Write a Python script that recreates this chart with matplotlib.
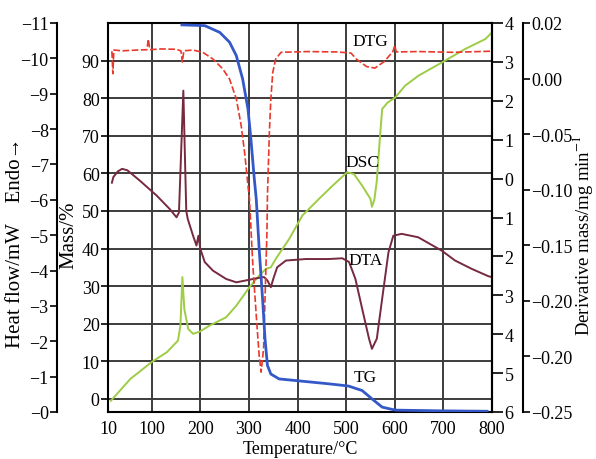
import matplotlib
matplotlib.use('Agg')
import matplotlib.pyplot as plt

plt.rcParams['font.family'] = ['Liberation Serif', 'DejaVu Serif']
plt.rcParams['mathtext.fontset'] = 'stix'

# 軸の目盛り
temp_ticks = [10, 100, 200, 300, 400, 500, 600, 700, 800]
mass_ticks = [0, 10, 20, 30, 40, 50, 60, 70, 80, 90]
heat_ticks = [0, -1, -2, -3, -4, -5, -6, -7, -8, -9, -10, -11]
heat_labels = ['−0', '−1', '−2', '−3', '−4', '−5', '−6', '−7', '−8', '−9', '−10', '−11']
dta_ticks = [4, 3, 2, 1, 0, -1, -2, -3, -4, -5, -6]
dta_labels = ['4', '3', '2', '1', '0', '1', '2', '3', '4', '5', '6']
deriv_ticks = [7, 6, 5, 4, 3, 2, 1, 0]
deriv_labels = ['0.02', '0.00', '−0.05', '−0.10', '−0.15', '−0.20', '−0.20', '−0.25']

# TG (青)
tg_t = [162, 209, 240, 260, 274, 287, 298, 304, 311, 315, 321, 328, 333, 338, 345,
        362, 417, 464, 485, 505, 533, 553, 574, 601, 700, 790]
tg_m = [99.5, 99.3, 97.5, 94.9, 91.3, 85.1, 77.1, 69.1, 58.5, 53.2, 39.9, 26.6, 16.0, 8.9, 6.6,
        5.3, 4.6, 4.0, 3.7, 3.4, 2.2, 0.0, -2.2, -3.0, -3.2, -3.3]

# DTG (赤)
dtg_t = [18, 20, 22, 40, 70, 90, 93, 96, 120, 150, 160, 163, 166, 185, 205, 226, 246, 260,
         274, 284, 291, 298, 301, 308, 315, 321, 325, 330, 334, 337, 338, 342, 345, 349, 355,
         366, 420, 480, 510, 521, 542, 559, 579, 590, 595, 600, 603, 650, 720, 800]
dtg_m = [92.5, 86.5, 92.8, 92.6, 92.8, 92.9, 95.7, 92.9, 93.1, 93.0, 92.6, 89.6, 92.6, 92.8,
         92.2, 90.4, 87.8, 85.1, 79.8, 72.7, 65.6, 56.7, 53.2, 35.5, 22.2, 11.5, 7.1, 13.3,
         31.0, 44.3, 54.0, 70.9, 79.8, 86.9, 90.4, 92.2, 92.4, 92.3, 92.0, 90.4, 88.4, 88.0,
         89.8, 91.5, 92.0, 94.0, 92.3, 92.4, 92.2, 92.5]

# DSC (黄緑)
dsc_t = [16, 56, 100, 131, 154, 159, 163, 167, 175, 185, 199, 219, 253, 274, 301, 321, 335,
         345, 355, 383, 410, 444, 472, 502, 516, 533, 550, 553, 558, 563, 568, 574, 585, 601,
         621, 649, 697, 745, 786, 800]
dsc_m = [-0.5, 5.3, 9.8, 12.4, 15.5, 19.5, 32.4, 23.9, 18.6, 17.3, 17.9, 19.5, 21.7, 24.8,
         29.7, 32.8, 34.6, 35.0, 37.2, 42.6, 48.8, 53.2, 56.7, 60.3, 59.8, 56.7, 53.2, 51.1,
         53.0, 58.0, 67.0, 77.1, 78.8, 80.2, 83.3, 86.0, 89.5, 93.1, 95.7, 97.5]

# DTA (えんじ)
dta_t = [18, 21, 30, 39, 50, 76, 110, 137, 151, 156, 165, 171, 174, 185, 192, 196, 200, 209,
         226, 253, 274, 301, 321, 331, 338, 345, 350, 358, 376, 417, 464, 492, 506, 519, 533,
         547, 553, 563, 574, 587, 597, 614, 648, 697, 724, 758, 793, 800]
dta_m = [57.5, 59.0, 60.5, 61.2, 60.8, 58.0, 54.1, 50.5, 48.3, 49.6, 82.0, 50.0, 47.9, 43.4,
         40.8, 43.4, 39.9, 36.4, 34.1, 31.9, 31.0, 31.7, 32.2, 32.4, 31.5, 29.7, 31.9, 35.0,
         36.8, 37.2, 37.2, 37.4, 36.4, 31.9, 23.9, 16.0, 13.3, 16.0, 26.6, 39.0, 43.4, 43.9,
         43.0, 39.4, 36.8, 34.6, 32.6, 32.4]

fs = 13     # 目盛り
fl = 15     # 縦の軸ラベル
fig = plt.figure(figsize=(5.96, 4.6), dpi=100)
ax = fig.add_axes([108/596, 1-413/460, 384/596, 389/460])

ax.plot(dsc_t, dsc_m, color='#9dcc45', lw=1.4, zorder=3)
ax.plot(dta_t, dta_m, color='#76293f', lw=1.4, zorder=3)
ax.plot(dtg_t, dtg_m, color='#e8392c', lw=1.2, ls=(0, (4, 1.5)), zorder=4)
ax.plot(tg_t, tg_m, color='#3558c8', lw=2.0, zorder=5)

ax.set_xlim(10, 800)
ax.set_ylim(-3.5, 100)
ax.set_xticks(temp_ticks)
ax.set_yticks(mass_ticks)
ax.grid(True, color='#3c3c3c', lw=1.4, zorder=1)
ax.set_axisbelow(True)
ax.tick_params(axis='x', length=0, pad=6, labelsize=fs)
ax.tick_params(axis='y', length=5, width=1.2, pad=1, labelsize=fs)
for s in ax.spines.values():
    s.set_linewidth(1.5)
ax.set_xlabel('Temperature/°C', fontsize=fs)
ax.xaxis.set_label_coords(0.5, -0.072)
ax.set_ylabel('Mass/%', fontsize=fl)
ax.yaxis.set_label_coords(-0.078, 0.457)

ax.text(550, 95.3, 'DTG', fontsize=12.5, ha='center', va='center')
ax.text(533, 63.1, 'DSC', fontsize=12.5, ha='center', va='center')
ax.text(540, 37.0, 'DTA', fontsize=12.5, ha='center', va='center')
ax.text(540, 5.9, 'TG', fontsize=12.5, ha='center', va='center')

# 熱流軸（左端）
ax_h = ax.twinx()
ax_h.set_ylim(0, -11)
ax_h.spines['right'].set_visible(False)
ax_h.spines['top'].set_visible(False)
ax_h.spines['bottom'].set_visible(False)
ax_h.spines['left'].set_visible(True)
ax_h.spines['left'].set_position(('axes', -51/384))
ax_h.spines['left'].set_linewidth(1.5)
ax_h.yaxis.tick_left()
ax_h.set_yticks(heat_ticks)
ax_h.set_yticklabels(heat_labels)
ax_h.tick_params(axis='y', length=5, width=1.2, pad=1, labelsize=fs)
ax_h.yaxis.set_label_position('left')
ax_h.set_ylabel('Heat flow/mW    Endo→', fontsize=fl)
ax_h.yaxis.set_label_coords(-0.215, 0.437)

# DTA 軸（右）
ax_r = ax.twinx()
ax_r.set_ylim(-6, 4)
for k in ['left', 'top', 'bottom']:
    ax_r.spines[k].set_visible(False)
ax_r.spines['right'].set_linewidth(1.5)
ax_r.set_yticks(dta_ticks)
ax_r.set_yticklabels(dta_labels)
ax_r.tick_params(axis='y', length=8, width=1.2, pad=1, labelsize=fs)

# 微分質量軸（右端）
ax_d = ax.twinx()
ax_d.set_ylim(0, 7)
for k in ['left', 'top', 'bottom']:
    ax_d.spines[k].set_visible(False)
ax_d.spines['right'].set_position(('axes', 415/384))
ax_d.spines['right'].set_linewidth(1.5)
ax_d.set_yticks(deriv_ticks)
ax_d.set_yticklabels(deriv_labels)
ax_d.tick_params(axis='y', length=5, width=1.2, pad=1, labelsize=fs)
ax_d.set_ylabel('Derivative mass/mg min$^{-1}$', fontsize=13.5)
ax_d.yaxis.set_label_coords(1.203, 0.457)

fig.savefig('out.png', dpi=100)
